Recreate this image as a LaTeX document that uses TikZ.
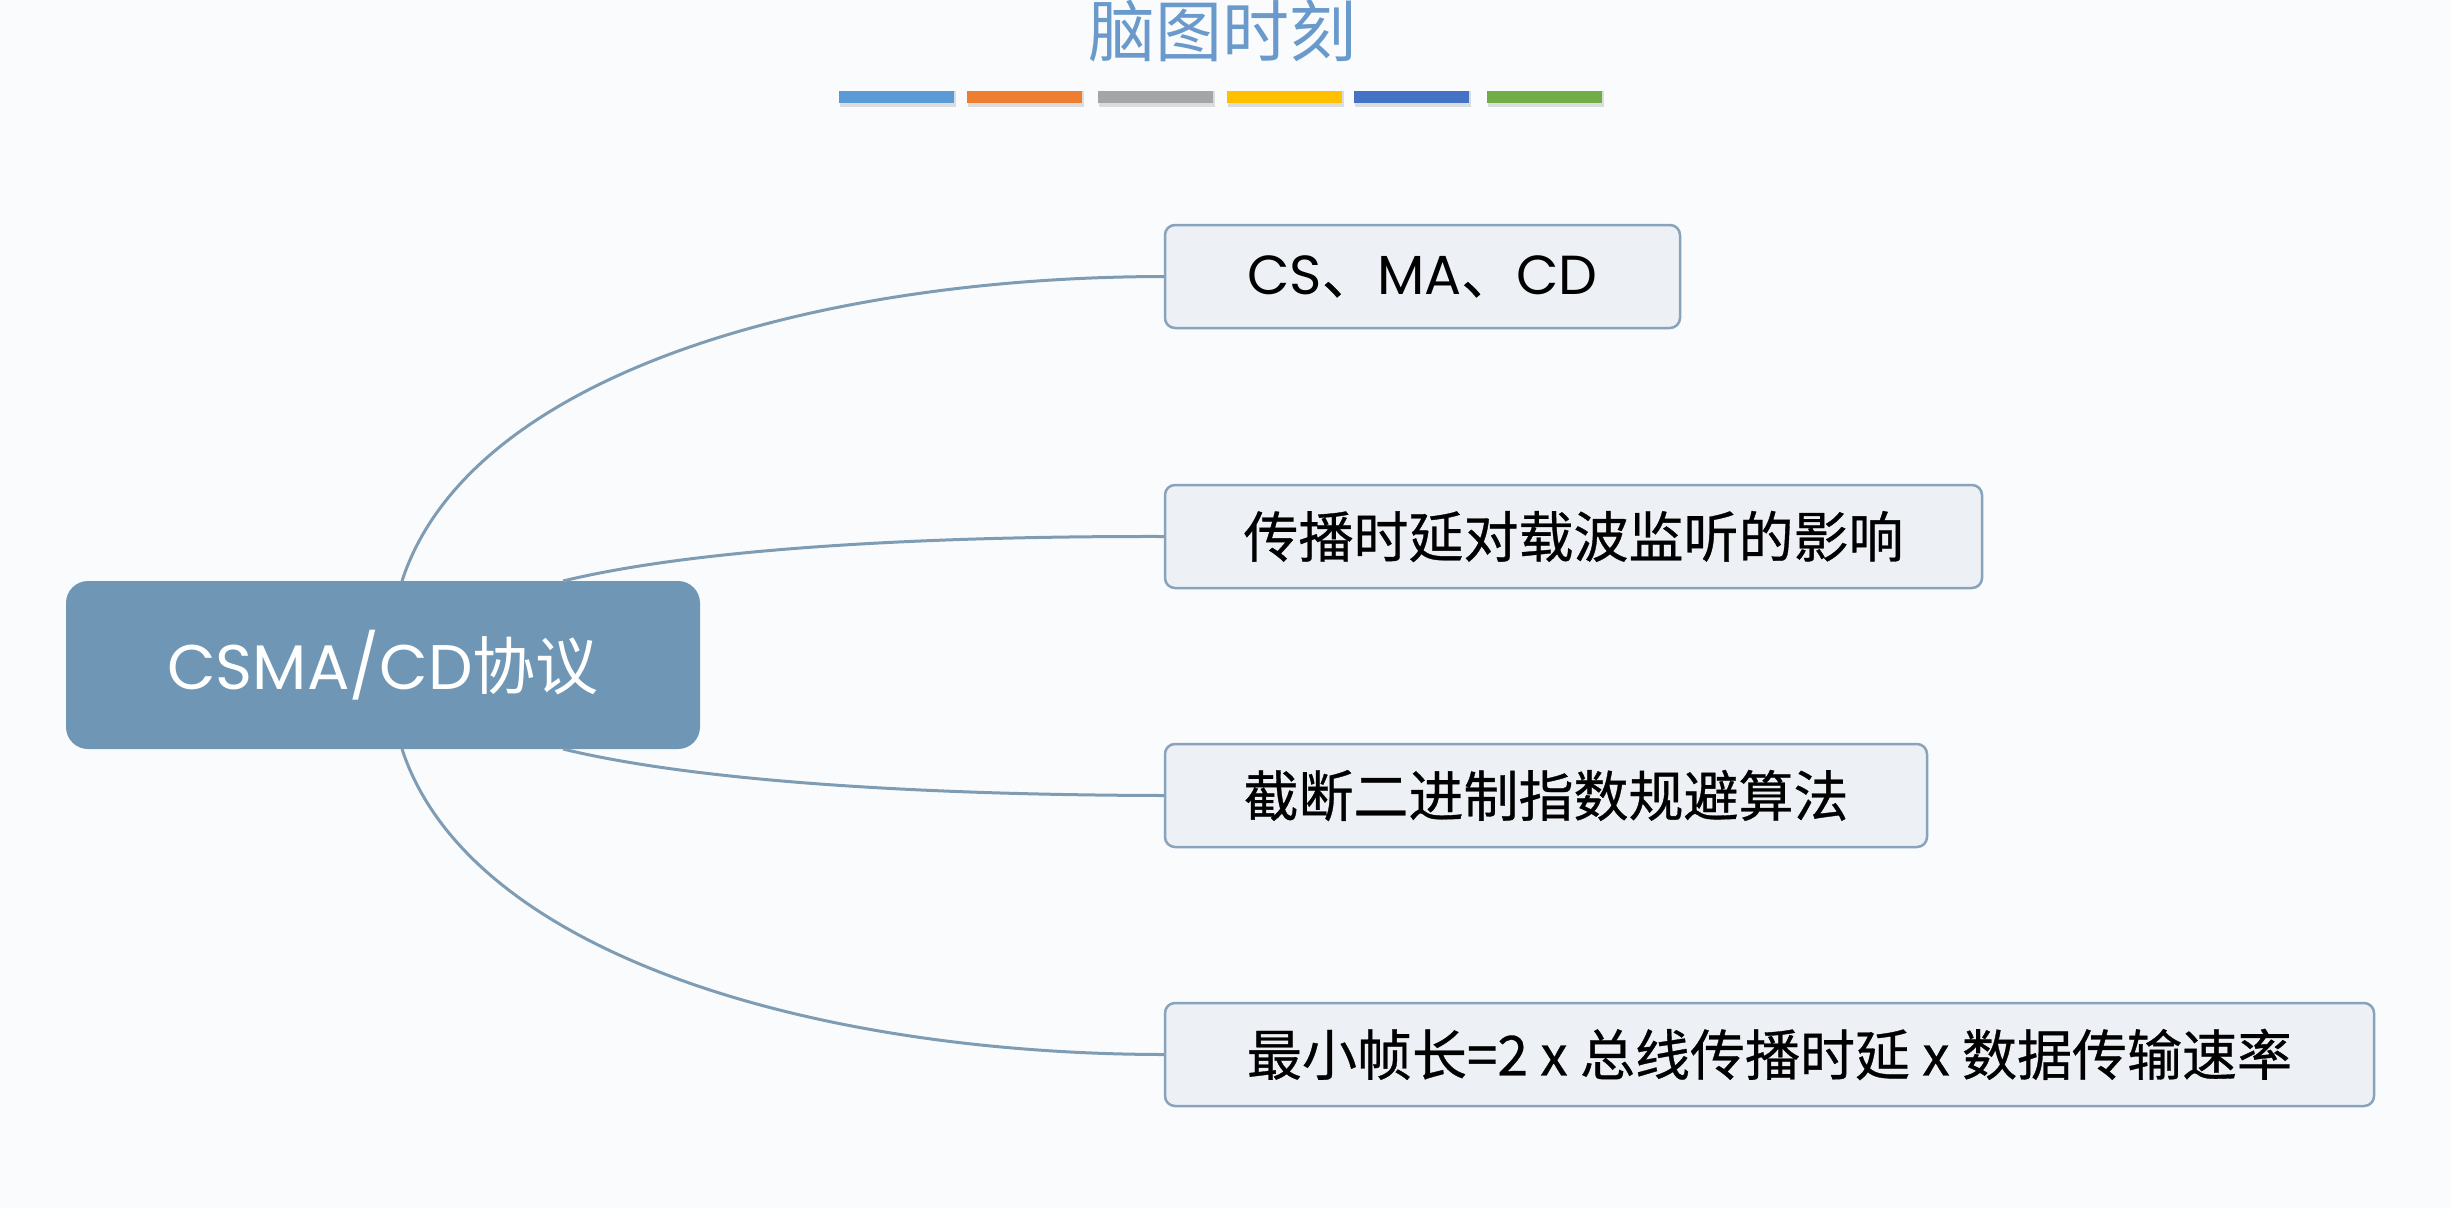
\documentclass[tikz,border=0pt]{standalone}
\usepackage{fontspec}
\newfontfamily\cjk{Noto Sans CJK SC}[FakeBold=0.6]
\newfontfamily\cjkt{Noto Sans CJK SC}
\newfontfamily\pop{Poppins}
\definecolor{bg}{HTML}{FAFBFC}
\definecolor{cfill}{HTML}{6F97B5}
\definecolor{bfill}{HTML}{EDF1F6}
\definecolor{bdraw}{HTML}{88A3BB}
\definecolor{lcol}{HTML}{7E9CB4}
\definecolor{tcol}{HTML}{6A9ACB}
\definecolor{b1}{HTML}{5B9BD5}
\definecolor{b2}{HTML}{ED7D31}
\definecolor{b3}{HTML}{A5A5A5}
\definecolor{b4}{HTML}{FFC000}
\definecolor{b5}{HTML}{4472C4}
\definecolor{b6}{HTML}{70AD47}
\tikzset{
  central/.style={rectangle, rounded corners=22pt, fill=cfill, text=white,
    minimum width=634pt, minimum height=168pt, inner sep=0pt,
    font=\fontsize{63}{70}\selectfont},
  topic/.style={rectangle, rounded corners=10pt, fill=bfill, draw=bdraw, line width=2.5pt,
    minimum height=103pt, inner sep=0pt, text=black,
    font=\fontsize{55}{62}\selectfont},
  link/.style={draw=lcol, line width=3pt},
  bar/.style={minimum width=115pt, minimum height=12pt, inner sep=0pt}
}
\begin{document}
\begin{tikzpicture}[x=1pt,y=-1pt]
\fill[bg] (0,0) rectangle (2451,1208);
\useasboundingbox (0,0) rectangle (2451,1208);
% title
\node[text=tcol, font=\cjkt\fontsize{67}{72}\selectfont, anchor=base] (title) at (1222,56) {脑图时刻};
% colour bars
\foreach \i/\x/\c in {1/896/b1, 2/1024/b2, 3/1155/b3, 4/1284/b4, 5/1411/b5, 6/1544/b6}{
  \fill[black, opacity=0.12] (\x-56,91) rectangle (\x+60,107);
  \node[bar, fill=\c] (bar\i) at (\x,97) {};
}
% nodes
\node[central] (c) at (383,665) {\pop CSMA/CD\cjkt 协议};
\node[topic, minimum width=515pt] (t1) at (1422.5,276.5) {\pop CS\cjk 、\pop MA\cjk 、\pop CD};
\node[topic, minimum width=817pt] (t2) at (1573.5,536.5) {\cjk 传播时延对载波监听的影响};
\node[topic, minimum width=762pt] (t3) at (1546,795.5) {\cjk 截断二进制指数规避算法};
\node[topic, minimum width=1209pt] (t4) at (1769.5,1054.5) {\cjk 最小帧长=2 x 总线传播时延 x 数据传输速率};
% start points on the central node
\coordinate (s1) at (402,581);
\coordinate (s2) at (563,581);
\coordinate (s3) at (563,749);
\coordinate (s4) at (402,749);
% connectors
\draw[link] (s1) .. controls (469,375) and (813,277) .. (t1.west);
\draw[link] (s2) .. controls (703,547) and (938,536) .. (t2.west);
\draw[link] (s3) .. controls (703,783) and (938,795) .. (t3.west);
\draw[link] (s4) .. controls (469,954) and (813,1054) .. (t4.west);
\end{tikzpicture}
\end{document}
